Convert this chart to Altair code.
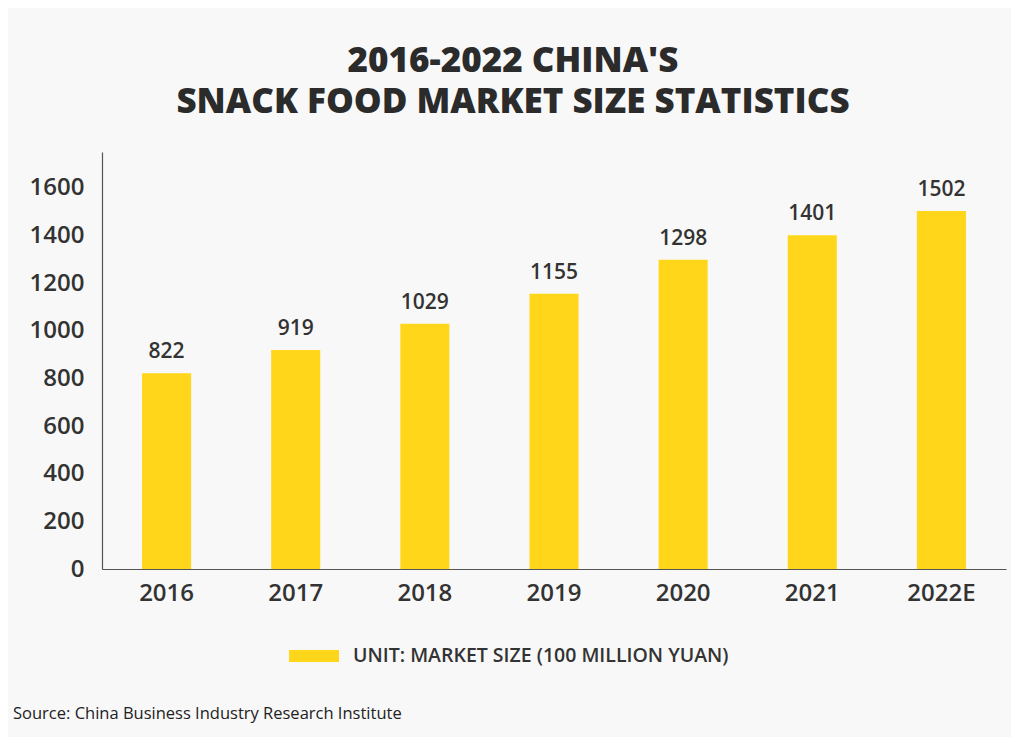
import altair as alt
import pandas as pd

years = ["2016", "2017", "2018", "2019", "2020", "2021", "2022E"]
values = [822, 919, 1029, 1155, 1298, 1401, 1502]
series_name = "UNIT: MARKET SIZE (100 MILLION YUAN)"
y_ticks = [0, 200, 400, 600, 800, 1000, 1200, 1400, 1600]
title_lines = ["2016-2022 CHINA'S", "SNACK FOOD MARKET SIZE STATISTICS"]
source_text = "Source: China Business Industry Research Institute"

df = pd.DataFrame({"year": years, "value": values, "series": [series_name] * len(years)})

W, H = 904, 417
FONT = "Open Sans"
TXT = "#333333"
BAR = "#FFD61A"

x_enc = alt.X("year:N", sort=years,
              scale=alt.Scale(paddingInner=0.62, paddingOuter=0.31),
              axis=alt.Axis(title=None, labelAngle=0, labelFontSize=24, labelColor=TXT,
                            labelFont=FONT, labelFontWeight=600, ticks=False, labelPadding=12,
                            domainColor="#555555", domainWidth=1.2))
y_enc = alt.Y("value:Q", scale=alt.Scale(domain=[0, 1750], nice=False),
              axis=alt.Axis(title=None, values=y_ticks, grid=False, ticks=False, format="d",
                            labelFontSize=24, labelColor=TXT, labelFont=FONT, labelFontWeight=600,
                            labelPadding=18, domainColor="#555555", domainWidth=1.2,
                            minExtent=88, maxExtent=88))

bars = alt.Chart(df).mark_bar(color=BAR).encode(
    x=x_enc, y=y_enc,
    color=alt.Color("series:N", scale=alt.Scale(range=[BAR]),
                    legend=alt.Legend(title=None, orient="none", legendX=W / 2 - 265, legendY=H + 62,
                                      symbolType="M-1,-0.24L1,-0.24L1,0.24L-1,0.24Z",
                                      symbolSize=2500, symbolStrokeWidth=0, symbolOpacity=1,
                                      labelFontSize=19.5, labelFont=FONT, labelFontWeight=600,
                                      labelColor=TXT, labelOffset=14, labelLimit=0)),
)

labels = alt.Chart(df).mark_text(baseline="bottom", dy=-11, fontSize=21, font=FONT,
                                 fontWeight=600, color=TXT).encode(
    x=alt.X("year:N", sort=years), y="value:Q", text="value:Q")

source = alt.Chart(pd.DataFrame({"t": [source_text]})).mark_text(
    align="left", baseline="middle", fontSize=16.5, font=FONT, fontWeight=500, color="#222222"
).encode(x=alt.value(-89), y=alt.value(H + 145), text="t:N")

chart = alt.layer(bars, labels, source).properties(
    width=W, height=H,
    padding={"left": 5, "top": 36, "right": 5, "bottom": 20},
    background="#f8f8f8",
    title=alt.TitleParams(title_lines[0], subtitle=title_lines[1], anchor="middle", dx=-41,
                          fontSize=35, font=FONT, fontWeight=800, color="#2b2b2b",
                          subtitleFontSize=35, subtitleFont=FONT, subtitleFontWeight=800,
                          subtitleColor="#2b2b2b", subtitlePadding=6, offset=32),
).configure_view(stroke=None)

chart.save("out.html", embed_options={"renderer": "svg", "actions": False})
